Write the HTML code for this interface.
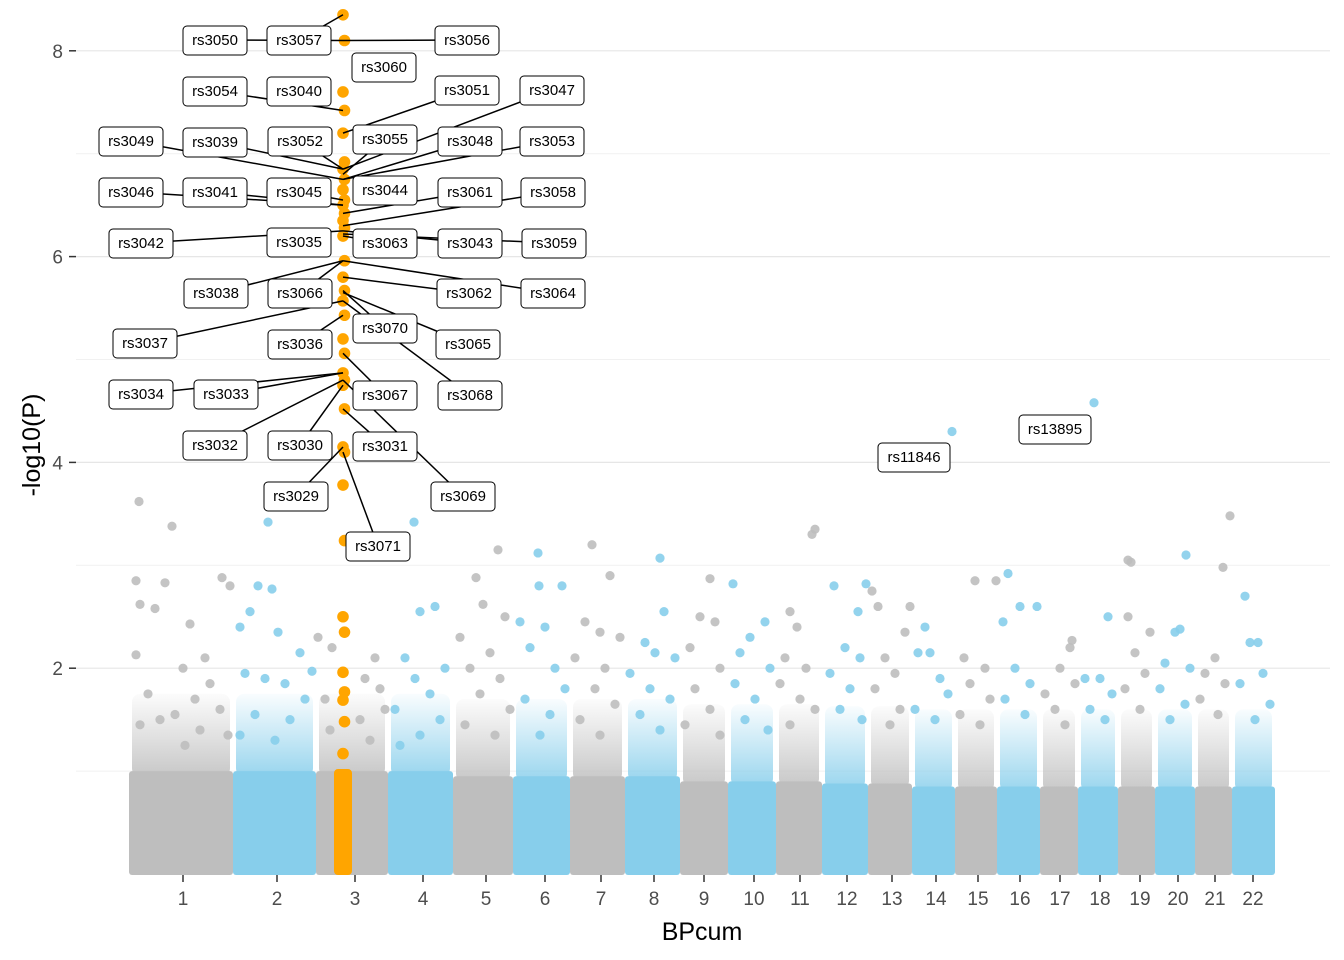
<!DOCTYPE html>
<html><head><meta charset="utf-8">
<style>
html,body{margin:0;padding:0;background:#fff;}
svg{display:block;font-family:"Liberation Sans",Arial,sans-serif;}
</style></head>
<body>
<svg id="chart" width="1344" height="960">
<defs>
<linearGradient id="gGrey" x1="0" y1="1" x2="0" y2="0"><stop offset="0" stop-color="#bebebe" stop-opacity="0.85"/><stop offset="1" stop-color="#bebebe" stop-opacity="0.05"/></linearGradient>
<linearGradient id="gBlue" x1="0" y1="1" x2="0" y2="0"><stop offset="0" stop-color="#87ceeb" stop-opacity="0.85"/><stop offset="1" stop-color="#87ceeb" stop-opacity="0.05"/></linearGradient>
</defs>
</svg>
<script>
// ---- data ----
const chromLabels = ["1","2","3","4","5","6","7","8","9","10","11","12","13","14","15","16","17","18","19","20","21","22"];
const chromStarts = [0,104,187,259,324,384,441,496,551,599,647,693,739,783,826,868,911,949,989,1026,1066,1103];
const chromEnds   = [104,187,259,324,384,441,496,551,599,647,693,739,783,826,868,911,949,989,1026,1066,1103,1146];
const chromTicks  = [54,148,226,294,357,416,472,525,575,625,671,718,763,807,849,891,931,971,1011,1049,1086,1124];
const denseTop    = [1.0,1.0,1.0,1.0,0.95,0.95,0.95,0.95,0.9,0.9,0.9,0.88,0.88,0.85,0.85,0.85,0.85,0.85,0.85,0.85,0.85,0.85];
const yTicks = [2,4,6,8];
// sparse points: bpcum, -log10(P)
const ptPos = [10,43,7,11,26,36,61,93,101,7,54,76,81,19,66,31,46,91,11,71,99,56,
 139,129,143,111,121,149,171,183,116,136,156,176,126,161,111,146,
 189,246,203,236,251,196,231,256,201,241,
 285,291,306,276,316,286,301,266,311,291,271,
 369,347,354,376,331,361,341,371,351,381,336,366,
 409,410,433,391,416,401,426,436,396,421,411,
 463,481,456,471,491,446,476,466,486,451,471,
 531,535,516,526,546,501,521,541,511,531,
 581,571,586,561,591,566,581,556,591,
 604,636,621,611,641,606,626,616,639,
 686,683,661,668,656,677,651,671,686,661,
 705,737,729,716,731,701,721,711,733,
 743,749,781,776,756,766,746,771,761,
 823,796,789,801,811,819,786,806,
 846,867,835,856,841,861,831,851,
 879,891,908,874,886,901,876,896,
 943,941,931,946,916,926,936,
 965,979,956,971,983,961,976,
 999,1002,1021,999,1006,1016,996,1011,
 1057,1051,1046,1036,1061,1031,1056,1041,
 1101,1094,1086,1076,1096,1071,1089,
 1116,1121,1129,1134,1111,1141,1126];
const ptVal = [3.62,3.38,2.85,2.62,2.58,2.83,2.43,2.88,2.8,2.13,2.0,2.1,1.85,1.75,1.7,1.5,1.55,1.6,1.45,1.4,1.35,1.25,
 3.42,2.8,2.77,2.4,2.55,2.35,2.15,1.97,1.95,1.9,1.85,1.7,1.55,1.5,1.35,1.3,
 2.3,2.1,2.2,1.9,1.8,1.7,1.5,1.6,1.4,1.3,
 3.42,2.55,2.6,2.1,2.0,1.9,1.75,1.6,1.5,1.35,1.25,
 3.15,2.88,2.62,2.5,2.3,2.15,2.0,1.9,1.75,1.6,1.45,1.35,
 3.12,2.8,2.8,2.45,2.4,2.2,2.0,1.8,1.7,1.55,1.35,
 3.2,2.9,2.45,2.35,2.3,2.1,2.0,1.8,1.65,1.5,1.35,
 3.07,2.55,2.25,2.15,2.1,1.95,1.8,1.7,1.55,1.4,
 2.87,2.5,2.45,2.2,2.0,1.8,1.6,1.45,1.35,
 2.82,2.45,2.3,2.15,2.0,1.85,1.7,1.5,1.4,
 3.35,3.3,2.55,2.4,2.1,2.0,1.85,1.7,1.6,1.45,
 2.8,2.82,2.55,2.2,2.1,1.95,1.8,1.6,1.5,
 2.75,2.6,2.6,2.35,2.1,1.95,1.8,1.6,1.45,
 4.3,2.4,2.15,2.15,1.9,1.75,1.6,1.5,
 2.85,2.85,2.1,2.0,1.85,1.7,1.55,1.45,
 2.92,2.6,2.6,2.45,2.0,1.85,1.7,1.55,
 2.27,2.2,2.0,1.85,1.75,1.6,1.45,
 4.58,2.5,1.9,1.9,1.75,1.6,1.5,
 3.05,3.03,2.35,2.5,2.15,1.95,1.8,1.6,
 3.1,2.38,2.35,2.05,2.0,1.8,1.65,1.5,
 3.48,2.98,2.1,1.95,1.85,1.7,1.55,
 2.7,2.25,2.25,1.95,1.85,1.65,1.5];
const hitPos = 214;
const hitVal = [8.35,8.1,7.6,7.42,7.2,6.92,6.85,6.75,6.65,6.55,6.5,6.42,6.35,6.28,6.2,5.96,5.8,5.67,5.57,5.43,5.2,5.06,4.87,4.8,4.75,4.52,4.15,4.1,3.78,3.24,2.5,2.35,1.96,1.77,1.69,1.48,1.17];
const labelNames = ["rs3050","rs3057","rs3056","rs3060","rs3054","rs3040","rs3051","rs3047","rs3049","rs3039","rs3052","rs3055","rs3048","rs3053","rs3046","rs3041","rs3045","rs3044","rs3061","rs3058","rs3042","rs3035","rs3063","rs3043","rs3059","rs3038","rs3066","rs3062","rs3064","rs3070","rs3065","rs3037","rs3036","rs3068","rs3034","rs3033","rs3067","rs3032","rs3030","rs3031","rs3029","rs3069","rs3071","rs11846","rs13895"];
const labelBoxX = [215,299,467,384,215,299,467,552,131,215,300,385,470,552,131,215,299,385,470,553,141,299,385,470,554,216,300,469,553,385,468,145,300,470,141,226,385,215,300,385,296,463,378,914,1055];
const labelBoxY = [40,40,40,67,91,91,90,90,141,142,141,139,141,141,192,192,192,190,192,192,243,242,243,243,243,293,293,293,293,328,344,343,344,395,394,394,395,445,445,446,496,496,546,457,429];
const labelPtPos = [214,214,214,null,214,null,214,214,214,214,214,214,214,214,214,214,214,null,214,214,214,null,214,214,214,214,214,214,214,214,214,214,214,214,214,214,214,214,214,214,214,214,214,null,null];
const labelPtVal = [8.1,8.35,8.1,null,7.42,null,7.2,6.85,6.75,6.85,6.85,6.8,6.75,6.75,6.5,6.5,6.55,null,6.42,6.3,6.25,null,6.2,6.25,6.22,5.96,5.96,5.8,5.96,5.67,5.65,5.57,5.43,5.57,4.87,4.87,5.06,4.8,4.75,4.52,4.15,4.8,4.1,null,null];

// ---- scales ----
const X0 = 129, X1 = 1275, Y0 = 874, PXU = 102.9;
const xS = v => X0 + v * (X1 - X0) / 1146;
const yS = v => Y0 - v * PXU;
const NS = "http://www.w3.org/2000/svg";
const svg = document.getElementById("chart");
function mk(tag, attrs, parent) {
  const e = document.createElementNS(NS, tag);
  for (const k in attrs) e.setAttribute(k, attrs[k]);
  (parent || svg).appendChild(e);
  return e;
}
const grey = "#bebebe", blue = "#87ceeb", orange = "#ffa500";

// gridlines
const grid = mk("g", {});


[1,3,5,7].forEach(v => mk("line", {x1:76,x2:1330,y1:yS(v),y2:yS(v),stroke:"#f1f1f1","stroke-width":1}, grid));
yTicks.forEach(v => mk("line", {x1:76,x2:1330,y1:yS(v),y2:yS(v),stroke:"#e6e6e6","stroke-width":1.2}, grid));

// dense blocks
const dense = mk("g", {});


chromStarts.forEach((s, i) => {
  const col = i % 2 ? blue : grey;
  const xa = xS(s), xb = xS(chromEnds[i]);
  const top = denseTop[i];
  mk("rect", {x:xa+3, y:yS(top+0.75), width:xb-xa-6, height:yS(top-0.05)-yS(top+0.75), fill: i % 2 ? "url(#gBlue)" : "url(#gGrey)", rx:8}, dense);
  const r = mk("rect", {x:xa, y:yS(top), width:xb-xa, height:yS(0)-yS(top)+1, fill:col, rx:3}, dense);
  
  
});

// sparse points
const sp = mk("g", {});


ptPos.forEach((p, i) => {
  let ci = 0;
  for (let k = 0; k < chromStarts.length; k++) if (p >= chromStarts[k]) ci = k;
  const c = mk("circle", {cx:xS(p), cy:yS(ptVal[i]), r:4.6, fill: ci % 2 ? blue : grey, opacity:0.9}, sp);
  
  
});

// highlighted (orange)
const hg = mk("g", {});


mk("rect", {x:xS(hitPos)-9, y:yS(1.02), width:18, height:yS(0)-yS(1.02)+1, fill:orange, rx:4}, hg);
hitVal.forEach((v, i) => {
  const c = mk("circle", {cx:xS(hitPos) + (i % 2 ? 1.5 : 0), cy:yS(v), r:5.8, fill:orange}, hg);
  
  
});

// labels
const lg = mk("g", {});


labelNames.forEach((n, i) => {
  if (labelPtPos[i] !== null)
    mk("line", {x1:labelBoxX[i], y1:labelBoxY[i], x2:xS(labelPtPos[i]), y2:yS(labelPtVal[i]), stroke:"#000", "stroke-width":1.5}, lg);
});
labelNames.forEach((n, i) => {
  const g = mk("g", {}, lg);
  
  
  const w = n.length > 6 ? 72 : 64;
  mk("rect", {x:labelBoxX[i]-w/2, y:labelBoxY[i]-14, width:w, height:29, rx:4, fill:"#fff", stroke:"#000", "stroke-width":1}, g);
  const t = mk("text", {x:labelBoxX[i], y:labelBoxY[i]+5, "text-anchor":"middle", "font-size":15, fill:"#000"}, g);
  t.textContent = n;
});

// axes
const ya = mk("g", {});


yTicks.forEach(v => {
  mk("line", {x1:69, x2:76, y1:yS(v), y2:yS(v), stroke:"#333", "stroke-width":1.5}, ya);
  const t = mk("text", {x:63, y:yS(v)+7, "text-anchor":"end", "font-size":19, fill:"#4d4d4d"}, ya);
  t.textContent = v;
});
const xa = mk("g", {});


chromTicks.forEach((v, i) => {
  mk("line", {x1:xS(v), x2:xS(v), y1:875, y2:882, stroke:"#333", "stroke-width":1.5}, xa);
  const t = mk("text", {x:xS(v), y:905, "text-anchor":"middle", "font-size":19, fill:"#4d4d4d"}, xa);
  t.textContent = chromLabels[i];
});
const xt = mk("text", {x:702, y:940, "text-anchor":"middle", "font-size":25, fill:"#000"});
xt.textContent = "BPcum";


const yt = mk("text", {x:0, y:0, "text-anchor":"middle", "font-size":25, fill:"#000", transform:"translate(40,445) rotate(-90)"});
yt.textContent = "-log10(P)";


</script>
</body></html>
